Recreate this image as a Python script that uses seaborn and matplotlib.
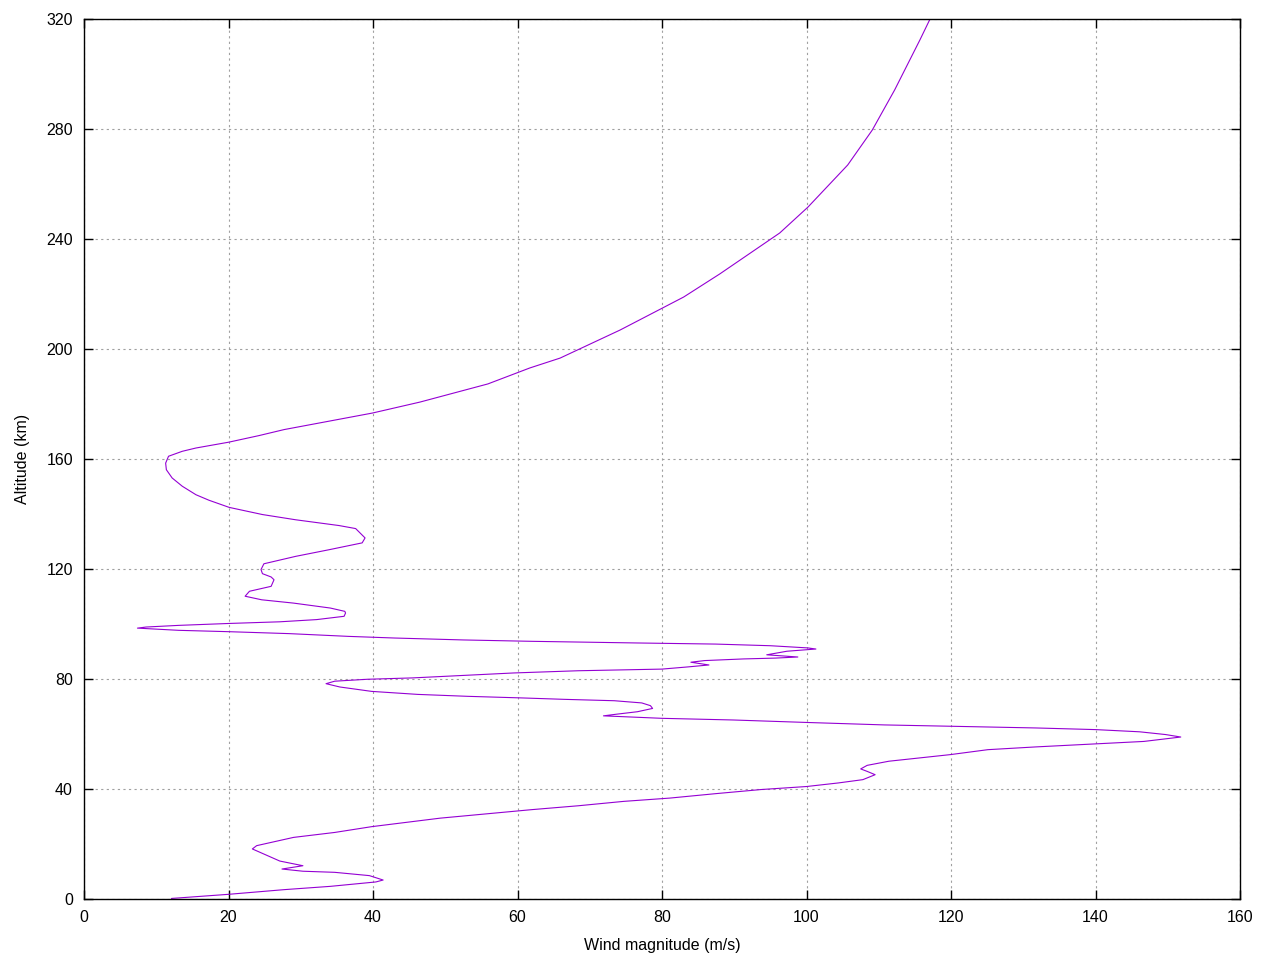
import matplotlib
matplotlib.use("Agg")
import matplotlib.pyplot as plt
import seaborn as sns
import pandas as pd

# Wind magnitude profile (m/s) vs altitude (km), ordered by altitude
altitude_km = [
    0.2, 1.7, 3.4, 4.6, 6.2, 6.9, 8.5, 9.7, 10.1, 10.9, 12.1, 13.8, 16.0, 18.2, 19.4,
    22.4, 24.2, 26.3, 29.4, 31.3, 32.5, 33.9, 35.5, 36.7, 38.3, 39.8, 40.9, 42.2, 43.4,
    45.2, 46.4, 47.3, 48.6, 50.1, 51.6, 52.5, 54.3, 55.3, 56.4, 57.3, 58.9, 59.8, 60.8,
    61.6, 62.2, 62.8, 63.3, 64.2, 65.1, 65.7, 66.6, 67.2, 68.1, 69.3, 70.3, 71.3, 72.1,
    72.6, 73.1, 73.7, 74.4, 75.5, 77.1, 78.3, 79.2, 79.9, 80.4, 81.3, 82.2, 83.0, 83.6,
    84.4, 85.1, 86.1, 86.7, 87.3, 87.6, 88.0, 88.8, 90.1, 90.9, 91.3, 92.1, 92.7, 93.1,
    93.7, 94.2, 94.9, 95.5, 96.5, 97.2, 97.7, 98.5, 98.9, 99.5, 100.2, 100.8, 101.6,
    102.8, 104.0, 104.6, 105.8, 107.6, 108.8, 110.1, 111.9, 113.7, 116.1, 117.1, 118.3,
    119.8, 121.9, 124.6, 127.0, 129.5, 131.3, 134.7, 135.8, 137.9, 139.8, 142.4, 145.0,
    147.0, 150.1, 153.1, 156.1, 158.5, 161.0, 162.8, 164.0, 166.1, 168.5, 170.7, 176.7,
    180.7, 187.3, 193.1, 196.7, 206.9, 218.9, 227.3, 242.2, 251.6, 266.9, 279.6, 294.2,
    312.4, 320.0,
]
wind_ms = [
    12.1, 20.0, 27.7, 34.1, 40.4, 41.4, 39.5, 34.7, 30.3, 27.4, 30.3, 27.1, 25.2, 23.3, 23.9,
    29.0, 34.7, 39.8, 49.3, 57.0, 62.0, 68.4, 74.7, 81.1, 87.4, 93.7, 100.0, 104.4, 107.8,
    109.5, 108.4, 107.5, 108.4, 111.4, 116.8, 119.9, 125.1, 131.7, 140.0, 146.7, 151.8, 149.7, 146.1,
    140.0, 131.7, 119.9, 110.8, 100.0, 89.8, 80.0, 71.9, 73.7, 76.6, 78.7, 78.4, 77.2, 73.4,
    66.5, 60.8, 53.1, 46.2, 39.8, 35.4, 33.5, 34.7, 39.2, 45.5, 52.5, 59.5, 68.4, 80.0,
    83.6, 86.5, 84.0, 85.9, 91.3, 95.7, 98.8, 94.5, 97.3, 101.3, 100.2, 95.0, 87.4, 76.6,
    62.0, 52.5, 43.0, 36.6, 28.4, 20.1, 13.1, 7.4, 8.6, 13.1, 20.1, 27.1, 32.2,
    36.0, 36.2, 36.1, 34.1, 29.0, 24.6, 22.3, 22.9, 25.9, 26.3, 25.9, 24.7,
    24.5, 24.9, 29.3, 33.9, 38.5, 38.9, 37.6, 35.3, 29.3, 24.7, 20.1, 17.3,
    15.5, 13.6, 12.2, 11.4, 11.3, 11.7, 13.6, 15.5, 20.0, 24.2, 27.7, 39.9,
    46.5, 55.9, 61.7, 65.9, 74.2, 83.0, 88.0, 96.3, 100.2, 105.7, 109.1, 112.2,
    115.7, 117.1,
]
x_ticks = [0, 20, 40, 60, 80, 100, 120, 140, 160]
y_ticks = [0, 40, 80, 120, 160, 200, 240, 280, 320]
x_label = "Wind magnitude (m/s)"
y_label = "Altitude (km)"

df = pd.DataFrame({"wind": wind_ms, "alt": altitude_km})

sns.set_theme(style="white")
plt.rcParams["font.family"] = ["Liberation Sans", "DejaVu Sans"]
plt.rcParams["text.color"] = "black"
plt.rcParams["axes.labelcolor"] = "black"

fig = plt.figure(figsize=(12.8, 9.6), dpi=100)
ax = fig.add_axes([84 / 1280, 61 / 960, (1240 - 84) / 1280, (899 - 19) / 960])

sns.lineplot(data=df, x="wind", y="alt", sort=False, estimator=None,
             color="#9400D3", linewidth=0.8, ax=ax)

ax.set_xlim(0, 160)
ax.set_ylim(0, 320)
ax.set_xticks(x_ticks)
ax.set_yticks(y_ticks)
ax.grid(True, color="#a0a0a0", linestyle=(0, (2, 3)), linewidth=0.8)
ax.set_axisbelow(True)
for s in ax.spines.values():
    s.set_color("black")
    s.set_linewidth(1.0)
    s.set_visible(True)
ax.tick_params(direction="in", length=6.5, width=1.0, colors="black",
               labelcolor="black", top=True, right=True, bottom=True, left=True,
               labelsize=11.5, pad=8)
ax.set_xlabel(x_label, fontsize=11.5, labelpad=9, color="black")
ax.set_ylabel(y_label, fontsize=11.5, labelpad=12, color="black")

fig.savefig("out.png", dpi=100)
